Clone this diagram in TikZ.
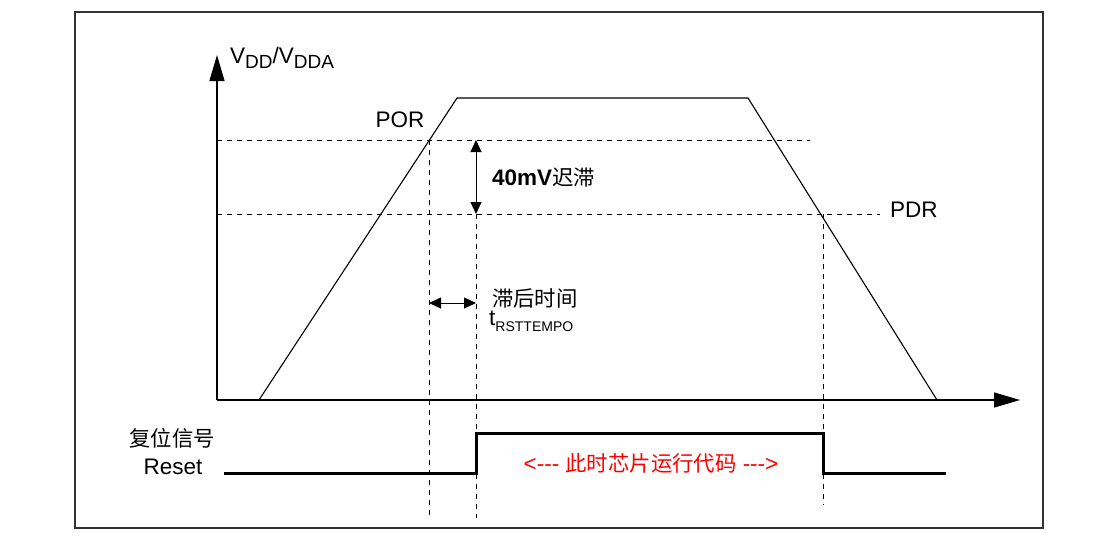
\documentclass[tikz,border=0pt]{standalone}
\usepackage{fontspec}
\setmainfont{Liberation Sans}
\newfontfamily\cjk{Noto Sans CJK SC}[Scale=0.95]
\usetikzlibrary{arrows.meta}
\newcommand{\mysub}[2]{\raisebox{-0.25em}{\fontsize{#1}{#1}\selectfont #2}}
\begin{document}
\begin{tikzpicture}[x=1pt,y=-1pt,
  axis/.style={line width=1.2pt,-{Triangle[length=26pt,width=15pt]}},
  wave/.style={line width=1.1pt},
  guide/.style={line width=0.9pt,dash pattern=on 5pt off 5pt},
  dim/.style={line width=0.9pt,{Triangle[length=12pt,width=11pt]}-{Triangle[length=12pt,width=11pt]}},
  sig/.style={line width=3pt},
  lbl/.style={font=\fontsize{22.5}{26}\selectfont,inner sep=0pt},
]
\useasboundingbox (0,0) rectangle (1114,544);
\draw[line width=1.3pt,black!80] (75,12) rectangle (1043,528);
% axes
\coordinate (O) at (217,400);
\coordinate (Ytip) at (217,55);
\coordinate (Xtip) at (1020,400);
\draw[axis] (O) -- (Ytip);
\draw[axis] (O) -- (Xtip);
\node[lbl,anchor=west] (vdd) at (230,58) {V\mysub{19}{DD}/V\mysub{19}{DDA}};
% trapezoid
\coordinate (t1) at (259,400);
\coordinate (t2) at (457,98);
\coordinate (t3) at (748,98);
\coordinate (t4) at (937,400);
\draw[wave] (t1) -- (t2) -- (t3) -- (t4);
% guide lines
\coordinate (porL) at (217,140);
\coordinate (porR) at (810,140);
\coordinate (pdrL) at (217,214);
\coordinate (pdrR) at (880,214);
\draw[guide] (porL) -- (porR);
\draw[guide] (pdrL) -- (pdrR);
\node[lbl,anchor=center] (por) at (400,120) {POR};
\node[lbl,anchor=west] (pdr) at (890,210) {PDR};
\coordinate (v1t) at (429,140);
\coordinate (v1b) at (429,515);
\coordinate (v2t) at (476,214);
\coordinate (v2b) at (476,518);
\coordinate (v3t) at (823,214);
\coordinate (v3b) at (823,505);
\draw[guide] (v1t) -- (v1b);
\draw[guide] (v2t) -- (v2b);
\draw[guide] (v3t) -- (v3b);
% hysteresis
\coordinate (h1) at (476,140);
\coordinate (h2) at (476,214);
\draw[dim] (h1) -- (h2);
\node[lbl,anchor=west] (hys) at (492,178) {\textbf{40mV}{\cjk 迟滞}};
% delay
\coordinate (d1) at (429,303);
\coordinate (d2) at (476,303);
\draw[dim] (d1) -- (d2);
\node[lbl,anchor=west] (dly) at (492,298) {\cjk 滞后时间};
\node[lbl,anchor=west] (trst) at (489,321) {t\mysub{14}{RSTTEMPO}};
% reset signal
\coordinate (r1) at (224,473);
\coordinate (r2) at (476,473);
\coordinate (r3) at (476,433);
\coordinate (r4) at (823,433);
\coordinate (r5) at (823,473);
\coordinate (r6) at (946,473);
\draw[sig] (r1) -- (r2) -- (r3) -- (r4) -- (r5) -- (r6);
\node[lbl,anchor=center] (fw) at (172,438) {\cjk 复位信号};
\node[lbl,anchor=center] (rst) at (173,467) {Reset};
\node[lbl,anchor=center,text=red] (run) at (651,463) {<{-}{-}{-} {\cjk 此时芯片运行代码} {-}{-}{-}>};
\end{tikzpicture}
\end{document}
